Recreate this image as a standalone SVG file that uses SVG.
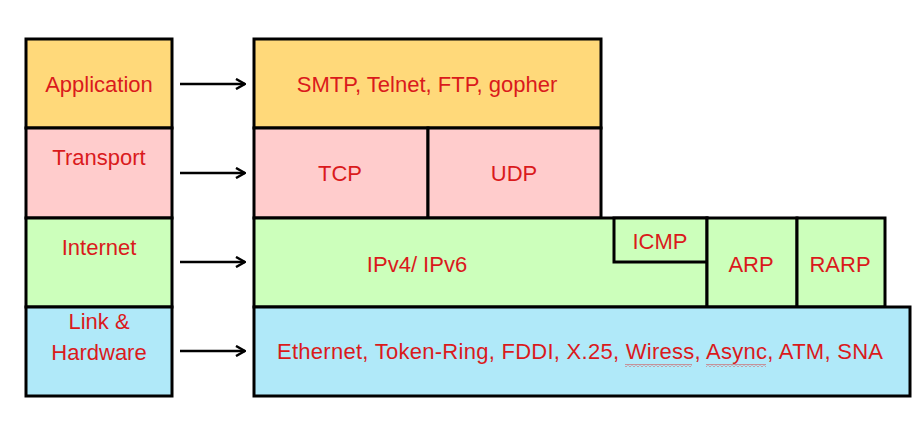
<svg xmlns="http://www.w3.org/2000/svg" width="923" height="440" viewBox="0 0 923 440">
<style>
.box{stroke:#000;stroke-width:3;}
.app{fill:#FFD97A;}
.tra{fill:#FFCCCC;}
.int{fill:#CCFFBB;}
.lnk{fill:#B0E9F9;}
text{font-family:"Liberation Sans",Arial,sans-serif;font-size:22px;fill:#DA1A1C;text-anchor:middle;}
.arrow{stroke:#000;stroke-width:2.5;fill:none;}
</style>
<defs>
<marker id="ah" viewBox="0 0 12 12" refX="11" refY="6" markerWidth="12" markerHeight="12" markerUnits="userSpaceOnUse" orient="auto">
<path d="M2 1 L11 6 L2 11" fill="none" stroke="#000" stroke-width="2.5"/>
</marker>
<pattern id="wavy" width="4" height="3" patternUnits="userSpaceOnUse">
<path d="M0 2.5 L2 0.5 L4 2.5" fill="none" stroke="#D83C3C" stroke-width="1"/>
</pattern>
</defs>
<rect width="923" height="440" fill="#fff"/>
<g id="layer-application">
<rect class="box app" x="26" y="39" width="146" height="89"/>
<text x="99" y="92">Application</text>
</g>
<g id="layer-transport">
<rect class="box tra" x="26" y="128" width="146" height="90"/>
<text x="99" y="165">Transport</text>
</g>
<g id="layer-internet">
<rect class="box int" x="26" y="218" width="146" height="89"/>
<text x="99" y="255">Internet</text>
</g>
<g id="layer-link">
<rect class="box lnk" x="26" y="307" width="146" height="89"/>
<text x="99" y="329">Link &amp;</text>
<text x="99" y="360">Hardware</text>
</g>
<g id="proto-application">
<rect class="box app" x="254" y="39" width="347" height="89"/>
<text x="427" y="92">SMTP, Telnet, FTP, gopher</text>
</g>
<g id="proto-tcp">
<rect class="box tra" x="254" y="128" width="174" height="90"/>
<text x="340" y="181">TCP</text>
</g>
<g id="proto-udp">
<rect class="box tra" x="428" y="128" width="173" height="90"/>
<text x="514" y="181">UDP</text>
</g>
<g id="proto-ip">
<rect class="box int" x="254" y="218" width="453" height="89"/>
<text x="417" y="272">IPv4/ IPv6</text>
</g>
<g id="proto-icmp">
<rect class="box int" x="614" y="218" width="93" height="44"/>
<text x="660" y="249">ICMP</text>
</g>
<g id="proto-arp">
<rect class="box int" x="707" y="218" width="90" height="89"/>
<text x="751" y="272">ARP</text>
</g>
<g id="proto-rarp">
<rect class="box int" x="797" y="218" width="88" height="89"/>
<text x="840" y="272">RARP</text>
</g>
<g id="proto-link">
<rect class="box lnk" x="254" y="307" width="656" height="89"/>
<text x="580" y="359" textLength="606" lengthAdjust="spacing">Ethernet, Token-Ring, FDDI, X.25, Wiress, Async, ATM, SNA</text>
<rect x="625" y="364" width="67" height="3" fill="url(#wavy)"/>
<rect x="706" y="364" width="60" height="3" fill="url(#wavy)"/>
</g>
<g id="connectors">
<line class="arrow" x1="180" y1="84" x2="245" y2="84" marker-end="url(#ah)"/>
<line class="arrow" x1="180" y1="173" x2="245" y2="173" marker-end="url(#ah)"/>
<line class="arrow" x1="180" y1="262" x2="245" y2="262" marker-end="url(#ah)"/>
<line class="arrow" x1="180" y1="351" x2="245" y2="351" marker-end="url(#ah)"/>
</g>
</svg>
